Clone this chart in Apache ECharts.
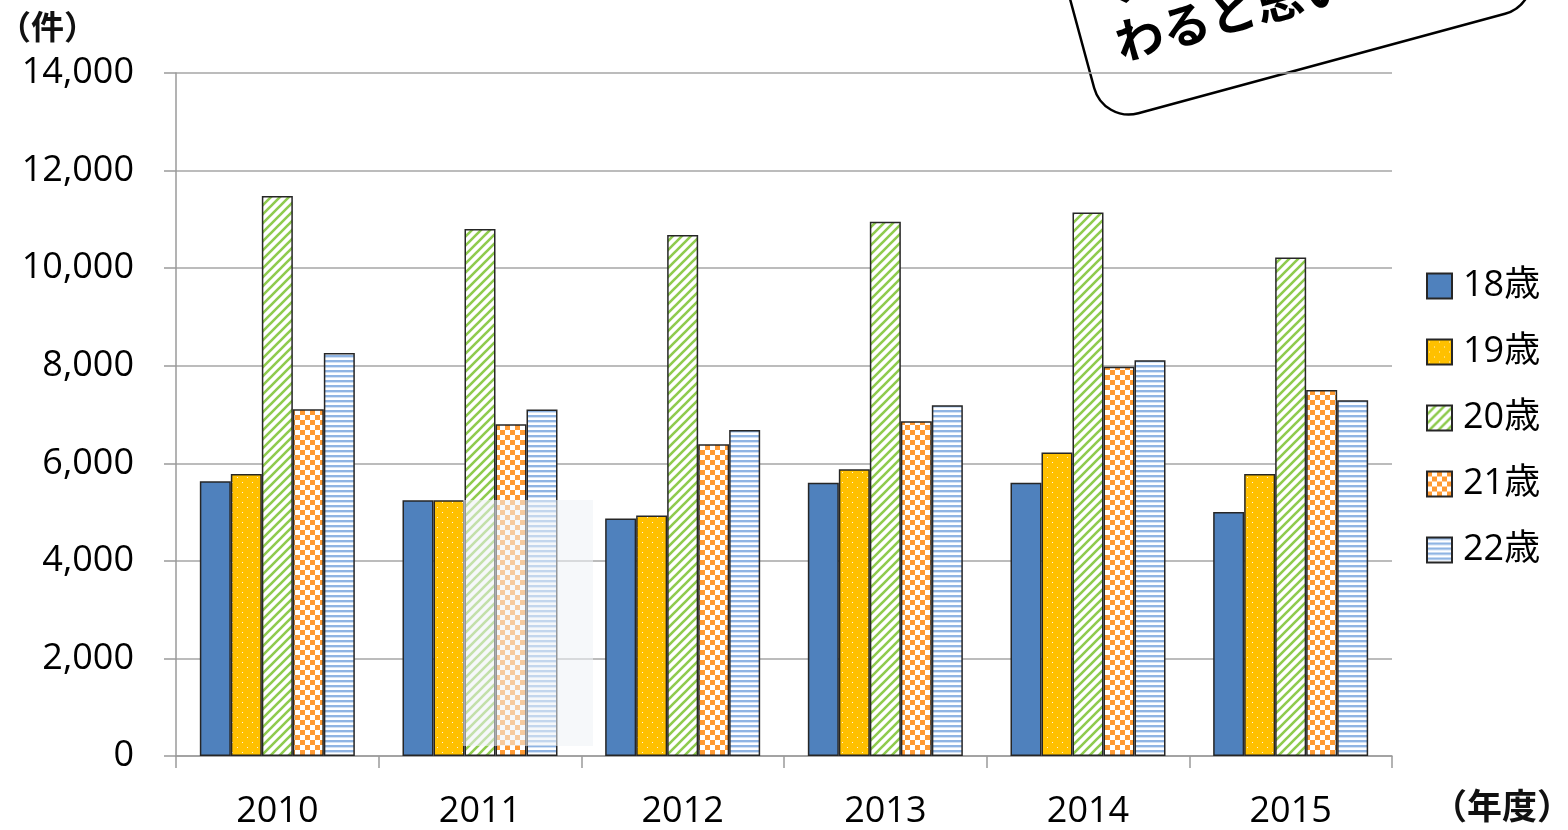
<!DOCTYPE html>
<html><head><meta charset="utf-8">
<script src="https://cdn.jsdelivr.net/npm/echarts@6/dist/echarts.min.js"></script>
<style>html,body{margin:0;padding:0;background:#fff}#c{width:1568px;height:830px}</style>
</head><body><div id="c"></div>
<script>
// ---- data ----
const years = ['2010', '2011', '2012', '2013', '2014', '2015'];
const seriesNames = ['18歳', '19歳', '20歳', '21歳', '22歳'];
const age18 = [5630, 5240, 4870, 5600, 5600, 5000];
const age19 = [5780, 5240, 4930, 5880, 6220, 5780];
const age20 = [11480, 10800, 10680, 10950, 11140, 10220];
const age21 = [7110, 6800, 6390, 6860, 7980, 7500];
const age22 = [8260, 7100, 6680, 7190, 8110, 7290];
const yMin = 0, yMax = 14000, yStep = 2000;
const yUnit = '（件）';
const xUnit = '（年度）';
const bubbleLines = ['ソウルの', 'わると思います'];

// ---- fill patterns ----
function mk(w, h, draw) {
  const c = document.createElement('canvas'); c.width = w; c.height = h;
  draw(c.getContext('2d')); return c;
}
const patDots = mk(10, 10, g => {
  g.fillStyle = '#FFC000'; g.fillRect(0, 0, 10, 10);
  g.fillStyle = 'rgba(255,255,255,0.85)';
  g.fillRect(2, 2, 1, 1); g.fillRect(7, 7, 1, 1);
});
const patDiag = mk(9, 9, g => {
  g.fillStyle = '#fff'; g.fillRect(0, 0, 9, 9);
  g.strokeStyle = '#8FCB4E'; g.lineWidth = 2.6;
  g.beginPath();
  g.moveTo(-2, 11); g.lineTo(11, -2);
  g.moveTo(-5, 5); g.lineTo(5, -5);
  g.moveTo(4, 14); g.lineTo(14, 4);
  g.stroke();
});
const patCheck = mk(10, 10, g => {
  g.fillStyle = '#fff'; g.fillRect(0, 0, 10, 10);
  g.fillStyle = '#FF9A33';
  g.fillRect(0, 0, 5, 5); g.fillRect(5, 5, 5, 5);
});
const patHStripe = mk(4, 5, g => {
  g.fillStyle = '#fff'; g.fillRect(0, 0, 4, 5);
  g.fillStyle = '#8FB4E3'; g.fillRect(0, 0, 4, 2);
  g.fillStyle = '#D3E2F5'; g.fillRect(0, 2, 4, 1);
});

const fills = [
  '#4F81BD',
  { image: patDots, repeat: 'repeat' },
  { image: patDiag, repeat: 'repeat' },
  { image: patCheck, repeat: 'repeat' },
  { image: patHStripe, repeat: 'repeat' }
];
const allData = [age18, age19, age20, age21, age22];

const FONT = '"Open Sans", "Noto Sans CJK JP", sans-serif';
const CJK = '"Noto Sans CJK JP", sans-serif';

const chart = echarts.init(document.getElementById('c'));
chart.setOption({
  animation: false,
  backgroundColor: '#fff',
  grid: { left: 176, right: 176, top: 73, bottom: 74, containLabel: false },
  legend: {
    orient: 'vertical', left: 1426, top: 266, padding: 0,
    itemWidth: 25, itemHeight: 25, itemGap: 26,
    icon: 'rect',
    textStyle: { fontSize: 36, fontFamily: FONT, color: '#000', lineHeight: 40, padding: [0, 0, 0, 6] },
    data: seriesNames
  },
  xAxis: {
    type: 'category', data: years,
    axisLine: { lineStyle: { color: '#9A9A9A', width: 1.5 } },
    axisTick: { show: true, length: 12, lineStyle: { color: '#9A9A9A', width: 1.5 } },
    axisLabel: { fontSize: 36, fontFamily: FONT, color: '#000', margin: 38 }
  },
  yAxis: {
    type: 'value', min: yMin, max: yMax, interval: yStep,
    axisLine: { show: true, lineStyle: { color: '#9A9A9A', width: 1.5 } },
    axisTick: { show: true, length: 12, lineStyle: { color: '#9A9A9A', width: 1.5 } },
    splitLine: { lineStyle: { color: '#A6A6A6', width: 1.5 } },
    axisLabel: {
      fontSize: 36, fontFamily: FONT, color: '#000', margin: 42,
      formatter: v => v.toLocaleString('en-US')
    }
  },
  series: seriesNames.map((n, i) => ({
    name: n, type: 'bar', data: allData[i],
    barWidth: 31, barGap: '0%',
    itemStyle: { color: fills[i], borderColor: '#262626', borderWidth: 1.5 }
  })),
  graphic: [
    { type: 'text', left: -2, top: 10, z: 50,
      style: { text: yUnit, fontSize: 33, fontWeight: 'bold', fontFamily: CJK, fill: '#111' } },
    { type: 'text', left: 1432, top: 788, z: 50,
      style: { text: xUnit, fontSize: 35, fontWeight: 'bold', fontFamily: CJK, fill: '#111' } },
    { type: 'rect', z: 60, shape: { x: 463, y: 500, width: 130, height: 246 },
      style: { fill: 'rgba(238,242,246,0.55)' } },
    { type: 'group', x: 1103.6, y: 122.7, rotation: 0.265, z: 100,
      children: [
        { type: 'rect', shape: { x: 0, y: -240, width: 452, height: 240, r: 36 },
          style: { fill: '#fff', stroke: '#000', lineWidth: 2.5 } },
        { type: 'text', x: 36, y: -106,
          style: { text: bubbleLines[0], fontSize: 48, fontWeight: 'bold', fontFamily: CJK, fill: '#000',
                   textVerticalAlign: 'bottom', verticalAlign: 'bottom' } },
        { type: 'text', x: 33, y: -49,
          style: { text: bubbleLines[1], fontSize: 48, fontWeight: 'bold', fontFamily: CJK, fill: '#000',
                   textVerticalAlign: 'bottom', verticalAlign: 'bottom' } }
      ] }
  ]
});
</script>
</body></html>
